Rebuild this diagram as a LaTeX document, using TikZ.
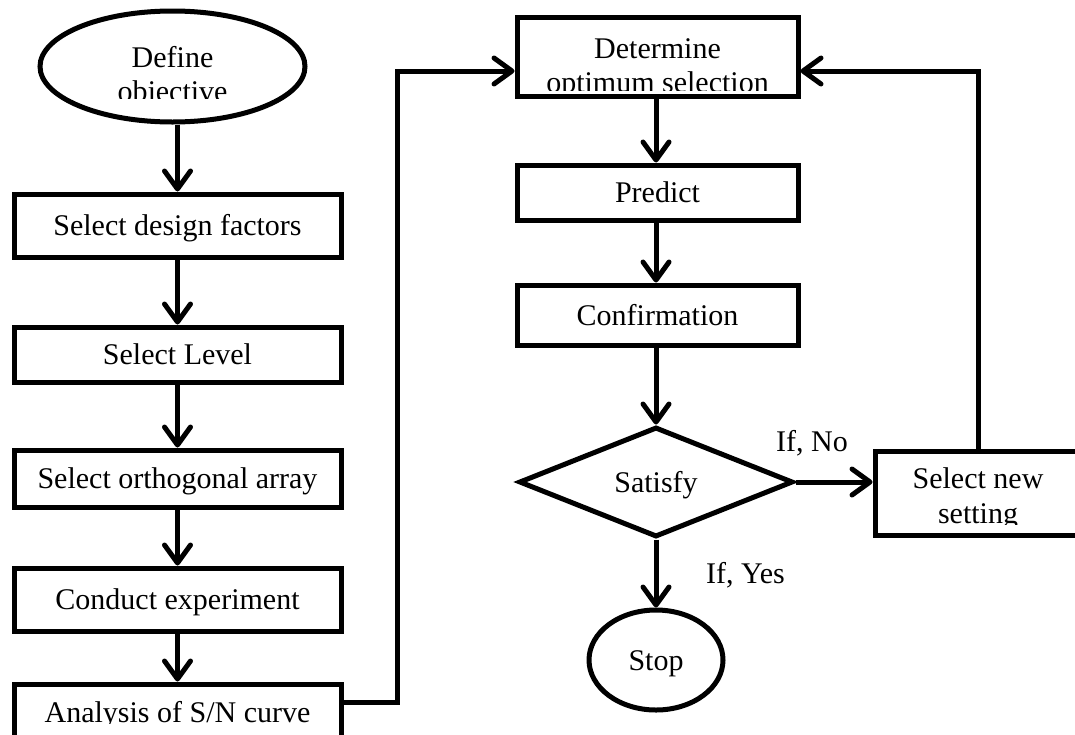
\documentclass[tikz,border=0pt]{standalone}
\usepackage{fontspec}
\setmainfont{Liberation Serif}
\usetikzlibrary{shapes.geometric,arrows.meta}
\tikzset{
  fnt/.style={font=\fontsize{30}{35}\selectfont},
  shp/.style={draw=black,line width=5pt,fill=white,inner sep=0pt,fnt,text height=20pt,text depth=0pt},
  procbox/.style={shp,rectangle},
  termin/.style={shp,ellipse},
  decis/.style={shp,diamond},
  lbl/.style={fnt,inner sep=0pt,text height=20pt,text depth=0pt},
  ln/.style={line width=5pt},
  arr/.style={ln,-{Straight Barb[length=18pt,width=26pt,round]}},
  tline/.style={fnt,anchor=base,inner sep=0pt},
}
\begin{document}
\begin{tikzpicture}[x=1pt,y=-1pt]
\useasboundingbox (0,0) rectangle (1075,734);
\clip (0,0) rectangle (1075,734);
\fill[white] (0,0) rectangle (1075,734);

% left column
\node[termin, minimum width=265pt, minimum height=111pt] (def) at (172.5,66.5) {};
\node[procbox, minimum width=327pt, minimum height=63pt] (b1) at (177.5,225.5) {Select design factors};
\node[procbox, minimum width=327pt, minimum height=55pt] (b2) at (177.5,354.5) {Select Level};
\node[procbox, minimum width=327pt, minimum height=57pt] (b3) at (177.5,478.5) {Select orthogonal array};
\node[procbox, minimum width=327pt, minimum height=63pt] (b4) at (177.5,599.5) {Conduct experiment};
\node[procbox, minimum width=327pt, minimum height=80pt] (b5) at (177.5,724) {};

% right column
\node[procbox, minimum width=281pt, minimum height=79pt] (det) at (657.5,56.5) {};
\node[procbox, minimum width=281pt, minimum height=55pt] (pred) at (657.5,192.5) {Predict};
\node[procbox, minimum width=281pt, minimum height=60pt] (conf) at (657.5,315) {Confirmation};
\node[decis, minimum width=274pt, minimum height=110pt] (sat) at (656,482) {Satisfy};
\node[termin, minimum width=134pt, minimum height=100pt] (stop) at (656,660) {Stop};
\node[procbox, minimum width=206pt, minimum height=84pt] (new) at (978,493) {};

% clipped texts
\begin{scope}
\clip (0,0) rectangle (400,98);
\node[tline] (defA) at (172.5,67) {Define};
\node[tline] (defB) at (172.5,101) {objective};
\end{scope}
\begin{scope}
\clip (500,0) rectangle (800,90);
\node[tline] (detA) at (657.5,58) {Determine};
\node[tline] (detB) at (657.5,92) {optimum selection};
\end{scope}
\begin{scope}
\clip (860,440) rectangle (1075,524);
\node[tline] (newA) at (978,488) {Select new};
\node[tline] (newB) at (978,523) {setting};
\end{scope}
\begin{scope}
\clip (0,690) rectangle (400,723);
\node[tline] (b5A) at (177.5,722) {Analysis of S/N curve};
\end{scope}

% connectors left
\draw[arr] (def.south -| b1.north) -- (b1.north);
\draw[arr] (b1) -- (b2);
\draw[arr] (b2) -- (b3);
\draw[arr] (b3) -- (b4);
\draw[arr] (b4) -- (b5);
\coordinate (j1) at (397,702);
\coordinate (j2) at (397,71);
\draw[arr] (b5.east |- j1) -- (j1) -- (j2) -- (det.west |- j2);

% connectors right
\draw[arr] (det.south -| sat.north) -- (pred.north -| sat.north);
\draw[arr] (pred.south -| sat.north) -- (conf.north -| sat.north);
\draw[arr] (conf.south -| sat.north) -- (sat.north);
\draw[arr] (sat) -- (stop);
\draw[arr] (sat.east) -- (sat.east -| new.west);
\coordinate (j3) at (978,71);
\draw[arr] (new.north) -- (j3) -- (det.east |- j3);

% labels
\node[lbl] (no) at (812,441) {If, No};
\node[lbl] (yes) at (745.5,573) {If, Yes};
\end{tikzpicture}
\end{document}
